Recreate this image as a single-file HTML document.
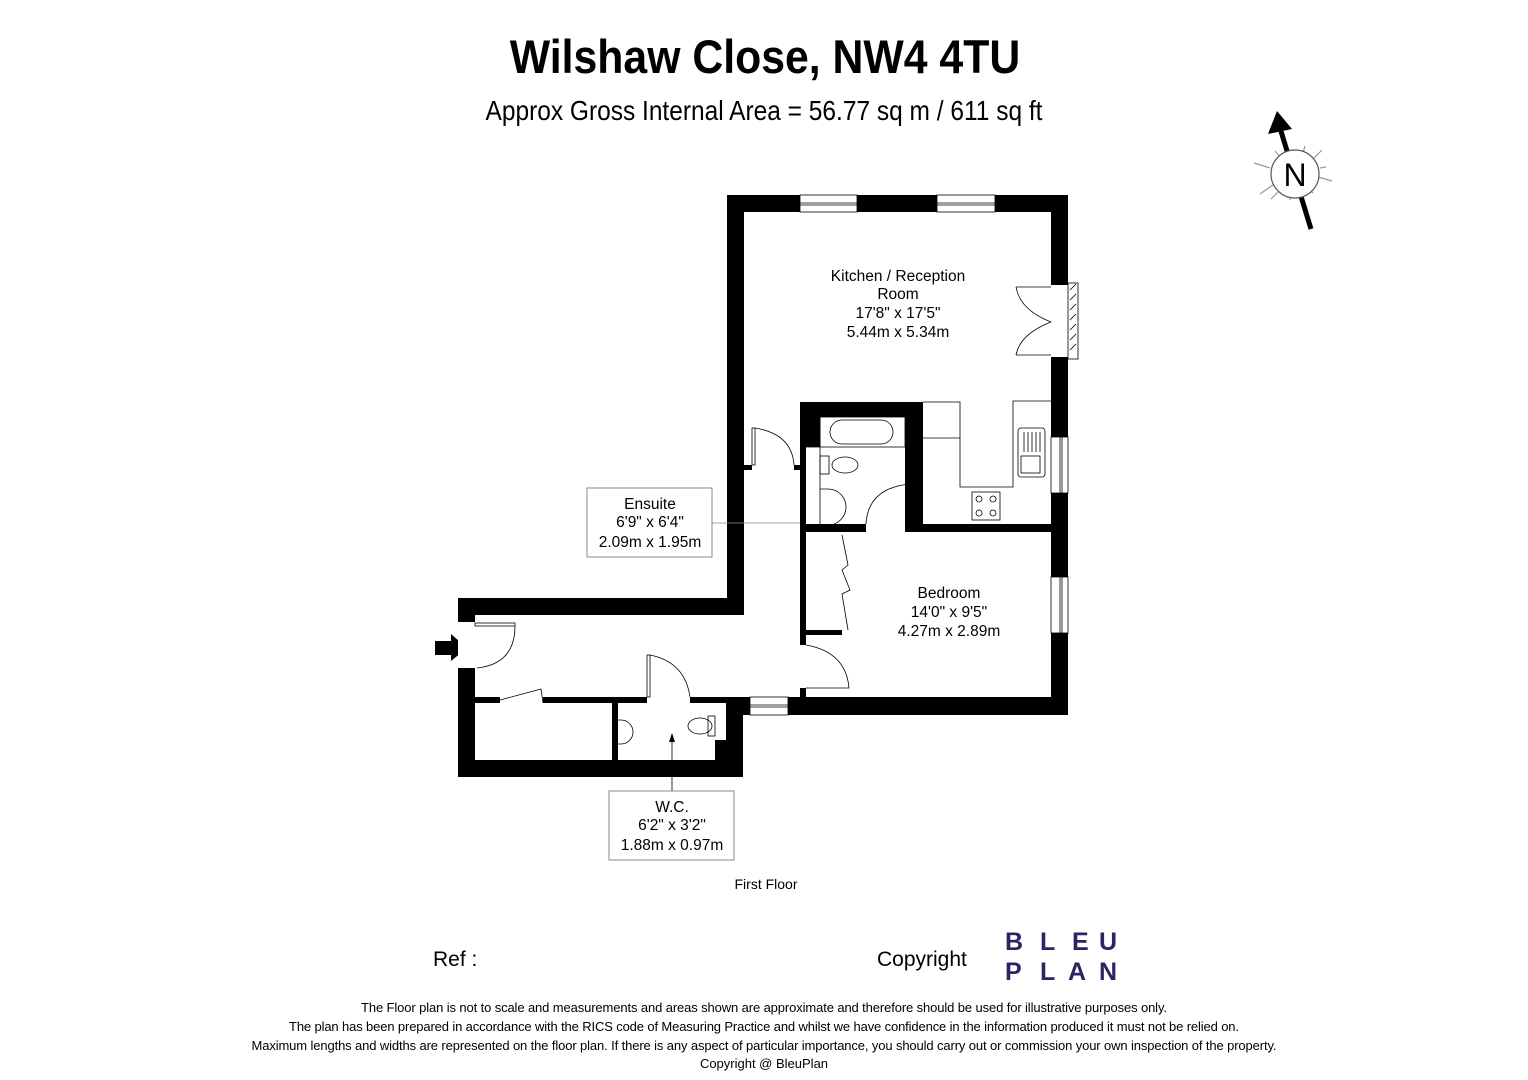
<!DOCTYPE html>
<html><head><meta charset="utf-8"><style>
html,body{margin:0;padding:0;background:#fff;}
svg{display:block;}
text{font-family:"Liberation Sans",Arial,sans-serif;fill:#000;}
</style></head><body>
<svg width="1528" height="1080" viewBox="0 0 1528 1080" xmlns="http://www.w3.org/2000/svg">
<rect width="1528" height="1080" fill="#fff"/>
<text x="765" y="73" text-anchor="middle" font-size="47" font-weight="bold" transform="translate(765 0) scale(0.91 1) translate(-765 0)">Wilshaw Close, NW4 4TU</text>
<text x="764" y="120" text-anchor="middle" font-size="28" transform="translate(764 0) scale(0.875 1) translate(-764 0)">Approx Gross Internal Area = 56.77 sq m / 611 sq ft</text>

<!-- compass -->
<g stroke="#999" stroke-width="1.2">
<line x1="1254" y1="163" x2="1270" y2="168"/><line x1="1260" y1="194" x2="1273" y2="185"/>
<line x1="1322" y1="150" x2="1312" y2="160"/><line x1="1332" y1="181" x2="1318" y2="177"/>
<line x1="1305" y1="146" x2="1303" y2="153"/><line x1="1326" y1="167" x2="1320" y2="168"/>
<line x1="1275" y1="151" x2="1280" y2="157"/><line x1="1271" y1="199" x2="1278" y2="192"/>
<line x1="1290" y1="200" x2="1290" y2="195"/><line x1="1313" y1="193" x2="1309" y2="189"/>
</g>
<line x1="1311" y1="229" x2="1280" y2="128" stroke="#000" stroke-width="5"/>
<circle cx="1295" cy="174" r="24" fill="#fff" stroke="#555" stroke-width="1.2"/>
<polygon points="1277,111 1268,134 1292,129" fill="#000"/>
<text x="1295" y="186" text-anchor="middle" font-size="32">N</text>

<!-- walls -->
<g fill="#000">
<rect x="727" y="195" width="341" height="17"/>
<rect x="727" y="195" width="17" height="420"/>
<rect x="1051" y="195" width="17" height="520"/>
<rect x="790" y="697" width="278" height="18"/>
<rect x="458" y="598" width="286" height="17"/>
<rect x="458" y="598" width="17" height="179"/>
<rect x="458" y="760" width="285" height="17"/>
<rect x="726" y="697" width="17" height="80"/>
<rect x="743" y="697" width="47" height="18"/>
<rect x="800" y="402" width="123" height="15"/>
<rect x="800" y="402" width="20" height="45"/>
<rect x="800" y="447" width="6" height="198"/>
<rect x="800" y="688" width="6" height="12"/>
<rect x="905" y="402" width="18" height="130"/>
<rect x="800" y="524" width="66" height="8"/>
<rect x="910" y="524" width="141" height="8"/>
<rect x="806" y="630" width="36" height="5"/>
<rect x="744" y="465" width="8" height="5"/>
<rect x="794" y="465" width="6" height="5"/>
<rect x="475" y="697" width="25" height="6"/>
<rect x="543" y="697" width="69" height="6"/>
<rect x="612" y="697" width="6" height="63"/>
<rect x="618" y="697" width="29" height="6"/>
<rect x="690" y="697" width="36" height="6"/>
<rect x="715" y="740" width="11" height="20"/>
<polygon points="435,641 451,641 451,634 467,648 451,661 451,655 435,655"/>
</g>
<!-- openings -->
<g fill="#fff" stroke="#000" stroke-width="0.8">
<rect x="800" y="195" width="57" height="17"/><line x1="800" y1="203" x2="857" y2="203"/><line x1="800" y1="205" x2="857" y2="205"/>
<rect x="937" y="195" width="58" height="17"/><line x1="937" y1="203" x2="995" y2="203"/><line x1="937" y1="205" x2="995" y2="205"/>
<rect x="1051" y="437" width="17" height="56"/><line x1="1060" y1="437" x2="1060" y2="493"/><line x1="1062" y1="437" x2="1062" y2="493"/>
<rect x="1051" y="577" width="17" height="56"/><line x1="1060" y1="577" x2="1060" y2="633"/><line x1="1062" y1="577" x2="1062" y2="633"/>
<rect x="750" y="697" width="38" height="18"/><line x1="750" y1="705" x2="788" y2="705"/><line x1="750" y1="707" x2="788" y2="707"/>
<rect x="1051" y="285" width="17" height="72" stroke="none"/>
<rect x="1068" y="283" width="10" height="76"/>
<rect x="458" y="622" width="17" height="46" stroke="none"/>
</g>
<g fill="none" stroke="#000" stroke-width="0.8">
<line x1="1016" y1="287" x2="1051" y2="287"/><line x1="1016" y1="355" x2="1051" y2="355"/>
<path d="M1016 287 Q1020 310 1051 322"/><path d="M1016 355 Q1020 334 1051 322"/>
<path d="M1070 290 l6 -6 M1070 300 l6 -6 M1070 310 l6 -6 M1070 320 l6 -6 M1070 330 l6 -6 M1070 340 l6 -6 M1070 350 l6 -6"/>
<rect x="475" y="623" width="40" height="3"/><path d="M515 626 Q515 664 477 668"/>
<path d="M923 402 H960 V487 H1013 V401 H1051"/><line x1="923" y1="438" x2="960" y2="438"/>
<rect x="972" y="492" width="28" height="28"/>
<circle cx="979" cy="499" r="3"/><circle cx="993" cy="499" r="3"/><circle cx="979" cy="513" r="3"/><circle cx="993" cy="513" r="3"/>
<rect x="1018" y="428" width="27" height="49" rx="3"/><rect x="1021" y="456" width="19" height="17"/>
<path d="M1024 432 v20 M1028 432 v20 M1032 432 v20 M1036 432 v20 M1040 432 v20"/>
<rect x="820" y="417" width="85" height="30"/>
<rect x="830" y="420" width="63" height="24" rx="12"/>
<line x1="806" y1="447" x2="820" y2="447"/>
<rect x="820" y="456" width="9" height="18"/><ellipse cx="845" cy="465" rx="13" ry="8"/>
<path d="M820 489 h8 a11 11 0 0 1 0 36 h-8"/>
<line x1="820" y1="417" x2="820" y2="524"/>
<rect x="910" y="482" width="4" height="42"/><path d="M866 524 Q868 488 910 484"/>
<rect x="752" y="428" width="3" height="37"/><path d="M755 428 Q792 434 794 465"/>
<path d="M842 535 L848 565 L842 570 L850 590 L842 594 L848 630"/>
<path d="M806 645 Q846 652 849 688 L806 688"/>
<path d="M500 700 L541 689 L543 703"/>
<rect x="647" y="655" width="3" height="42"/><path d="M650 655 Q685 662 690 697"/>
<rect x="708" y="716" width="7" height="20"/><ellipse cx="700" cy="726" rx="12" ry="8"/>
<path d="M618 720 h3 a11 11 0 0 1 0 24 h-3"/>
<line x1="712" y1="523" x2="800" y2="523" stroke="#888"/>
<line x1="672" y1="791" x2="672" y2="740"/>
</g>
<polygon points="669,742 672,733 675,742" fill="#000"/>
<rect x="587" y="488" width="125" height="69" fill="#fff" stroke="#888"/>
<rect x="609" y="791" width="125" height="69" fill="#fff" stroke="#888"/>

<g font-size="15.5" text-anchor="middle">
<text x="898" y="281">Kitchen / Reception</text><text x="898" y="299">Room</text>
<text x="898" y="318">17'8" x 17'5"</text><text x="898" y="337">5.44m x 5.34m</text>
<text x="949" y="598">Bedroom</text><text x="949" y="617">14'0" x 9'5"</text><text x="949" y="636">4.27m x 2.89m</text>
<text x="650" y="509">Ensuite</text><text x="650" y="527">6'9" x 6'4"</text><text x="650" y="547">2.09m x 1.95m</text>
<text x="672" y="812">W.C.</text><text x="672" y="830">6'2" x 3'2"</text><text x="672" y="850">1.88m x 0.97m</text>
</g>
<text x="766" y="889" font-size="14" text-anchor="middle">First Floor</text>
<text x="433" y="966" font-size="21">Ref  :</text>
<text x="877" y="966" font-size="21">Copyright</text>
<g font-size="25" font-weight="bold">
<text x="1005" y="950" style="fill:#2d2466">B</text><text x="1040" y="950" style="fill:#2d2466">L</text><text x="1072" y="950" style="fill:#2d2466">E</text><text x="1099" y="950" style="fill:#2d2466">U</text>
<text x="1005" y="980" style="fill:#2d2466">P</text><text x="1040" y="980" style="fill:#2d2466">L</text><text x="1068" y="980" style="fill:#2d2466">A</text><text x="1099" y="980" style="fill:#2d2466">N</text>
</g>
<g font-size="13" text-anchor="middle">
<text x="764" y="1012" textLength="806">The Floor plan is not to scale and measurements and areas shown are approximate and therefore should be used for illustrative purposes only.</text>
<text x="764" y="1031" textLength="950">The plan has been prepared in accordance with the RICS code of Measuring Practice and whilst we have confidence in the information produced it must not be relied on.</text>
<text x="764" y="1050" textLength="1025">Maximum lengths and widths are represented on the floor plan. If there is any aspect of particular importance, you should carry out or commission your own inspection of the property.</text>
<text x="764" y="1068">Copyright @ BleuPlan</text>
</g>
</svg>
</body></html>
